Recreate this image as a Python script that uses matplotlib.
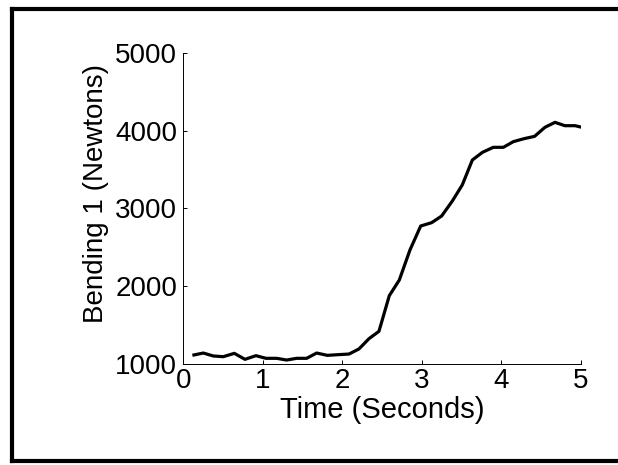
import matplotlib
matplotlib.use("Agg")
import matplotlib.pyplot as plt
from matplotlib.lines import Line2D

time_s = [0.134, 0.252, 0.377, 0.503, 0.642, 0.776, 0.914, 1.040, 1.174, 1.300,
          1.426, 1.552, 1.678, 1.812, 1.950, 2.085, 2.210, 2.336, 2.462, 2.592,
          2.718, 2.852, 2.987, 3.125, 3.250, 3.385, 3.510, 3.637, 3.763, 3.900,
          4.027, 4.153, 4.287, 4.420, 4.550, 4.677, 4.800, 4.930, 5.000]
bending = [1116, 1141, 1103, 1094, 1137, 1060, 1107, 1073, 1073, 1051,
           1073, 1073, 1141, 1111, 1120, 1128, 1193, 1325, 1420, 1878,
           2079, 2465, 2773, 2816, 2901, 3094, 3300, 3621, 3719, 3784,
           3784, 3857, 3895, 3925, 4041, 4105, 4062, 4062, 4045]
xticks = [0, 1, 2, 3, 4, 5]
yticks = [1000, 2000, 3000, 4000, 5000]

plt.rcParams["font.family"] = "Liberation Sans"

fig = plt.figure(figsize=(6.18, 4.65), dpi=100)
ax = fig.add_axes([0.2966, 0.2172, 0.6430, 0.6695])

ax.plot(time_s, bending, color="black", lw=2.3)
ax.set_xlim(0, 5)
ax.set_ylim(1000, 5000)
ax.set_xticks(xticks)
ax.set_yticks(yticks)
ax.tick_params(direction="in", length=3, width=0.7, labelsize=20)
ax.tick_params(axis="x", pad=2.9)
ax.tick_params(axis="y", pad=4.3)
for s in ["top", "right"]:
    ax.spines[s].set_visible(False)
for s in ["left", "bottom"]:
    ax.spines[s].set_linewidth(0.7)
ax.set_xlabel("Time (Seconds)", fontsize=21)
ax.set_ylabel("Bending 1 (Newtons)", fontsize=20)
ax.xaxis.set_label_coords(0.501, -0.103)
ax.yaxis.set_label_coords(-0.187, 0.548)

# outer frame
fig.add_artist(Line2D([12/618, 12/618], [1-9/465, 1-461/465], color="black", lw=3, transform=fig.transFigure))
fig.add_artist(Line2D([12/618, 1], [1-9/465, 1-9/465], color="black", lw=3, transform=fig.transFigure))
fig.add_artist(Line2D([12/618, 1], [1-461/465, 1-461/465], color="black", lw=3, transform=fig.transFigure))

fig.savefig("out.png", dpi=100)
